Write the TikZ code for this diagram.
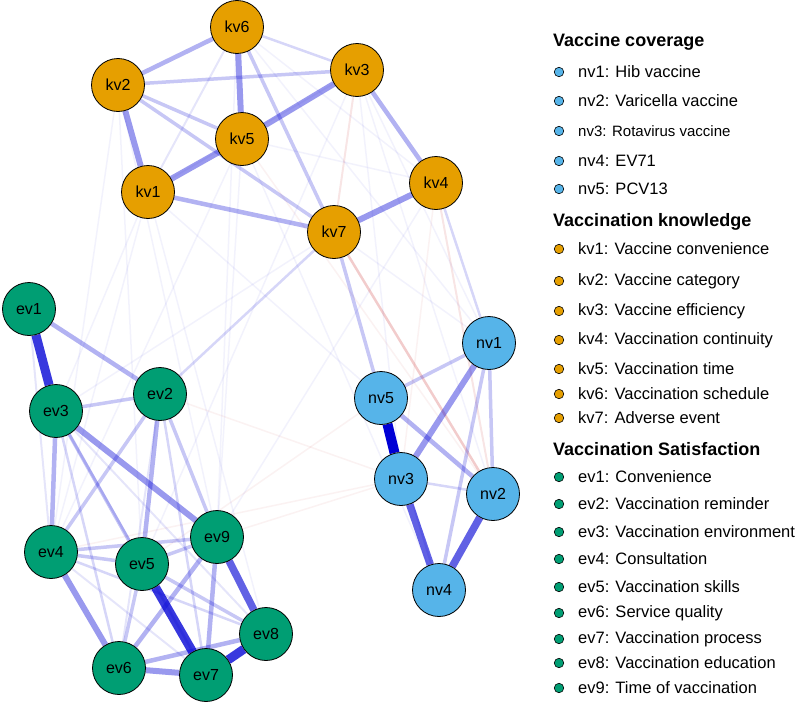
\documentclass[tikz,border=0pt]{standalone}
\usepackage{fontspec}
\setmainfont{Liberation Sans}
\usetikzlibrary{backgrounds}
\definecolor{kvo}{HTML}{E69F00}
\definecolor{nvb}{HTML}{56B4E9}
\definecolor{evg}{HTML}{009E73}
\definecolor{pos}{HTML}{0000D5}
\definecolor{neg}{HTML}{BF0000}
\tikzset{
  vnode/.style={circle,draw=black,line width=0.8pt,minimum size=53pt,inner sep=0pt,font=\fontsize{16}{18}\selectfont},
  kvn/.style={vnode,fill=kvo},
  nvn/.style={vnode,fill=nvb},
  evn/.style={vnode,fill=evg},
  e1/.style={draw=pos,line width=1.5pt,draw opacity=0.05},
  e2/.style={draw=pos,line width=2pt,draw opacity=0.1},
  e3/.style={draw=pos,line width=2.5pt,draw opacity=0.16},
  e4/.style={draw=pos,line width=3.5pt,draw opacity=0.22},
  e5/.style={draw=pos,line width=4.5pt,draw opacity=0.3},
  e6/.style={draw=pos,line width=6pt,draw opacity=0.4},
  e7/.style={draw=pos,line width=7.5pt,draw opacity=0.62},
  e8/.style={draw=pos,line width=9pt,draw opacity=0.78},
  e9/.style={draw=pos,line width=10pt,draw opacity=1},
  n1/.style={draw=neg,line width=1.5pt,draw opacity=0.05},
  n2/.style={draw=neg,line width=2pt,draw opacity=0.1},
  n3/.style={draw=neg,line width=2.5pt,draw opacity=0.2},
  ldot/.style={circle,draw=black,line width=0.6pt,minimum size=9.5pt,inner sep=0pt},
  litem/.style={anchor=west,inner sep=0pt,font=\fontsize{16.5}{18}\selectfont},
  lhead/.style={anchor=west,inner sep=0pt,font=\bfseries\fontsize{18}{20}\selectfont}
}

\begin{document}
\begin{tikzpicture}[x=1pt,y=-1pt]
\useasboundingbox (0,0) rectangle (797,704);
% ================= nodes =================
\node[kvn] (kv6) at (237,27) {kv6};
\node[kvn] (kv2) at (118,85) {kv2};
\node[kvn] (kv3) at (357,70) {kv3};
\node[kvn] (kv5) at (242,139) {kv5};
\node[kvn] (kv1) at (148,192) {kv1};
\node[kvn] (kv4) at (436,183) {kv4};
\node[kvn] (kv7) at (334,232) {kv7};
\node[evn] (ev1) at (29,309) {ev1};
\node[evn] (ev2) at (160,394) {ev2};
\node[evn] (ev3) at (56,411) {ev3};
\node[evn] (ev4) at (51,552) {ev4};
\node[evn] (ev5) at (142,564) {ev5};
\node[evn] (ev9) at (217,537) {ev9};
\node[evn] (ev8) at (266,634) {ev8};
\node[evn] (ev6) at (119,668) {ev6};
\node[evn] (ev7) at (206,675) {ev7};
\node[nvn] (nv1) at (489,343) {nv1};
\node[nvn] (nv5) at (381,398) {nv5};
\node[nvn] (nv3) at (401,479) {nv3};
\node[nvn] (nv2) at (493,494) {nv2};
\node[nvn] (nv4) at (439,590) {nv4};
% ================= edges, weak first =================
\begin{scope}[on background layer]
\fill[white] (0,0) rectangle (797,704);
\foreach \a/\b in {kv1/ev4,kv1/ev8,kv2/ev9,kv1/ev3,kv2/ev4,kv5/ev4,kv5/ev9,kv6/nv1,kv3/nv3,
                   kv5/nv4,kv6/kv4,kv5/kv4,kv1/kv3,kv7/ev3,kv2/ev5,kv6/ev9,kv3/ev5,kv1/nv5,ev9/kv4,
                   kv3/nv1,kv3/nv2,kv7/nv1}
  \draw[e1] (\a) -- (\b);
\foreach \a/\b in {ev2/nv3,ev4/nv3,ev5/nv5,kv4/nv3,ev9/nv3,kv5/nv2}
  \draw[n1] (\a) -- (\b);
\foreach \a/\b in {kv3/kv7,kv4/nv2}
  \draw[n2] (\a) -- (\b);
\draw[n3] (kv7) -- (nv2);
\foreach \a/\b in {kv6/kv1,nv5/nv4,ev1/ev4,ev4/ev7,ev2/ev6,ev3/ev8}
  \draw[e2] (\a) -- (\b);
\foreach \a/\b in {kv6/kv3,ev3/ev6,ev3/ev7,ev2/ev7,ev4/ev8,nv3/nv2,kv4/nv1,kv7/ev2}
  \draw[e3] (\a) -- (\b);
\foreach \a/\b in {kv6/kv7,kv2/kv5,kv2/kv3,kv2/kv7,ev3/ev2,ev2/ev4,ev2/ev9,ev4/ev5,ev4/ev9,
                   ev5/ev9,ev5/ev6,ev5/ev8,nv1/nv5,nv1/nv2,nv1/nv4,ev3/ev5,kv7/nv5}
  \draw[e4] (\a) -- (\b);
\foreach \a/\b in {ev1/ev2,kv2/kv6,ev2/ev5,ev9/ev6,ev9/ev7,ev6/ev8,nv5/nv2,kv1/kv7,kv3/kv4,ev3/ev4}
  \draw[e5] (\a) -- (\b);
\foreach \a/\b in {kv7/kv4,kv6/kv5,ev4/ev6,nv1/nv3,kv2/kv1,kv1/kv5,kv5/kv3,ev3/ev9,ev6/ev7}
  \draw[e6] (\a) -- (\b);
\foreach \a/\b in {ev9/ev8,nv2/nv4,nv3/nv4}
  \draw[e7] (\a) -- (\b);
\foreach \a/\b in {ev1/ev3,ev5/ev7,ev7/ev8}
  \draw[e8] (\a) -- (\b);
\draw[e9] (nv5) -- (nv3);
\end{scope}
% ================= legend =================
\node[lhead] (hnv) at (553,42) {Vaccine coverage};
\foreach \y/\s/\t [count=\i] in {72/16.5/{nv1: Hib vaccine},101/16.5/{nv2: Varicella vaccine},
    131/15/{nv3: Rotavirus vaccine},161/16.5/{nv4: EV71},189/16.5/{nv5: PCV13}}
  {\node[ldot,fill=nvb] (dnv\i) at (559,\y) {};
   \node[litem] (lnv\i) at (578,\y) {\fontsize{\s}{18}\selectfont\t};}
\node[lhead] (hkv) at (553,222) {Vaccination knowledge};
\foreach \y/\t [count=\i] in {249/{kv1: Vaccine convenience},281/{kv2: Vaccine category},
    311/{kv3: Vaccine efficiency},340/{kv4: Vaccination continuity},369/{kv5: Vaccination time},
    394/{kv6: Vaccination schedule},418/{kv7: Adverse event}}
  {\node[ldot,fill=kvo] (dkv\i) at (559,\y) {};
   \node[litem] (lkv\i) at (578,\y) {\t};}
\node[lhead] (hev) at (553,449) {Vaccination Satisfaction};
\foreach \y/\t [count=\i] in {477/{ev1: Convenience},504/{ev2: Vaccination reminder},
    532/{ev3: Vaccination environment},559/{ev4: Consultation},587/{ev5: Vaccination skills},
    613/{ev6: Service quality},639/{ev7: Vaccination process},663/{ev8: Vaccination education},
    688/{ev9: Time of vaccination}}
  {\node[ldot,fill=evg] (dev\i) at (559,\y) {};
   \node[litem] (lev\i) at (578,\y) {\t};}
\end{tikzpicture}
\end{document}
